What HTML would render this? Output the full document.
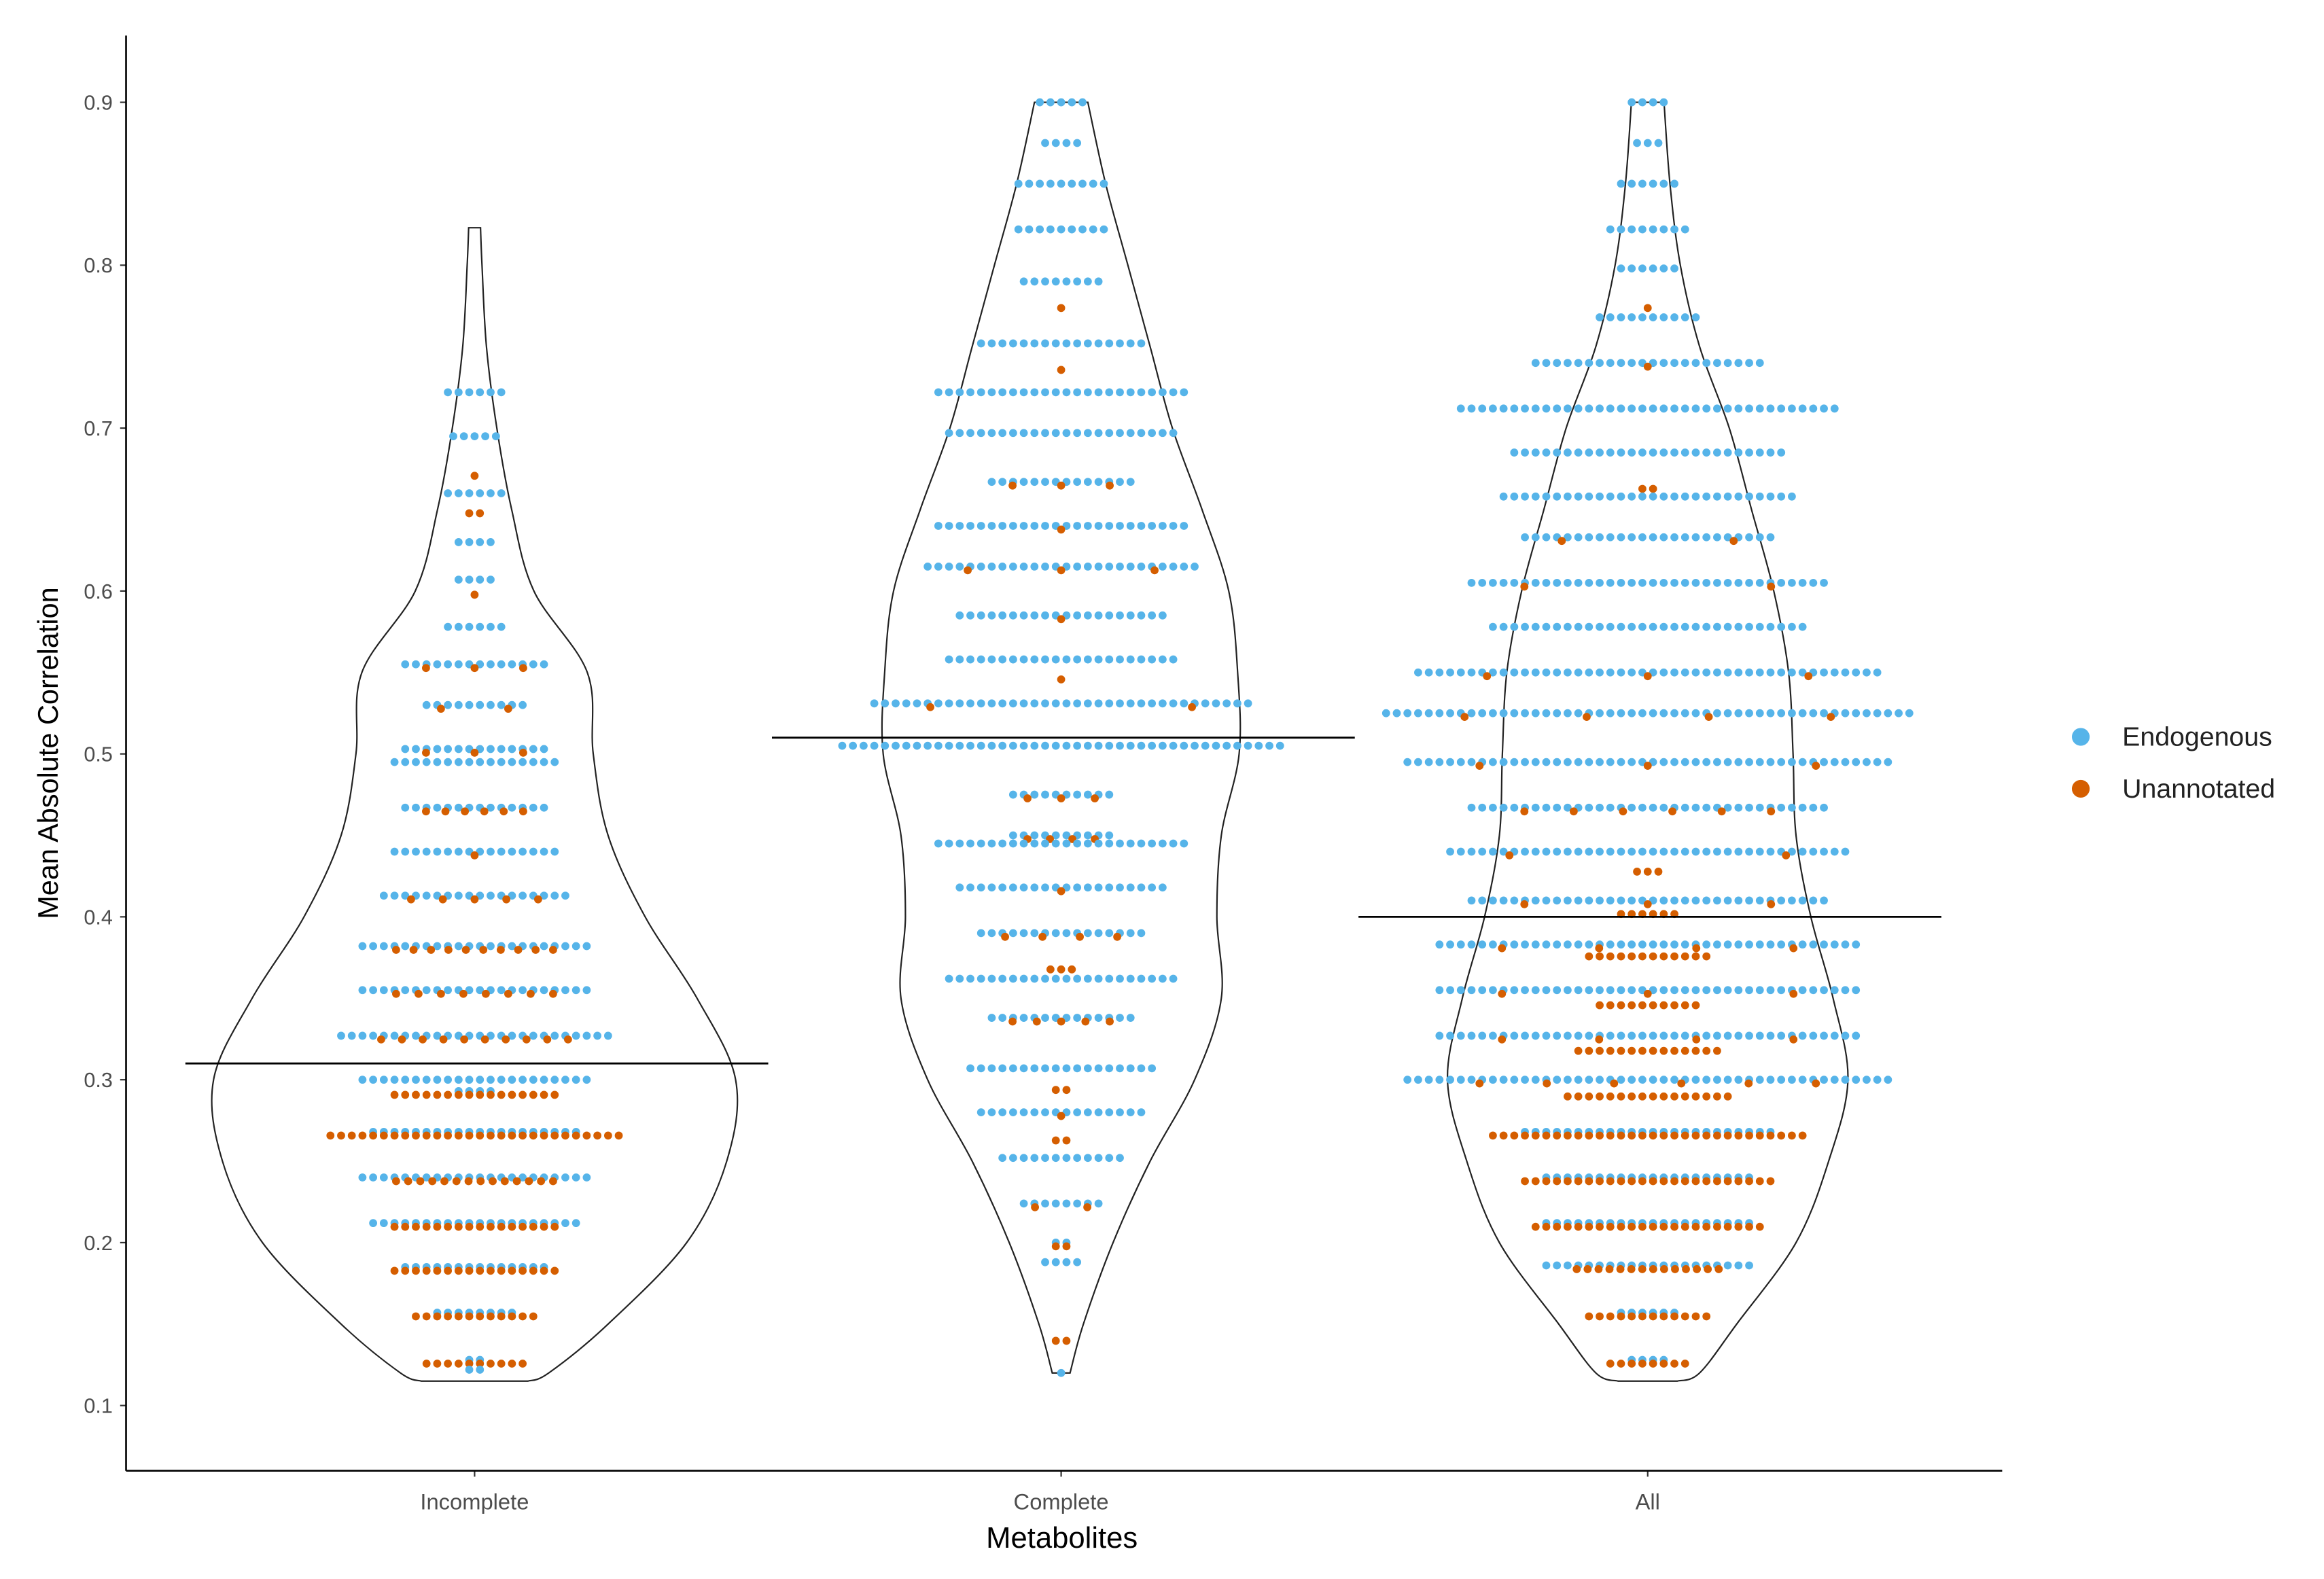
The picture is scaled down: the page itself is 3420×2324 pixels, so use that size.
<!DOCTYPE html>
<html><head><meta charset="utf-8"><style>
html,body{margin:0;padding:0;background:#fff}
svg{display:block}
text{font-family:"Liberation Sans",Arial,sans-serif}
</style></head><body>
<svg id="chart" width="3420" height="2324" viewBox="0 0 1567 1065" preserveAspectRatio="none" xmlns="http://www.w3.org/2000/svg">
<rect width="1567" height="1065" fill="#fff"/>
<g id="plot"></g>
<g id="axes"></g>
<g>
<circle cx="1403" cy="497" r="6" fill="#56B4E9"/>
<text x="1431" y="503" font-size="18" fill="#222">Endogenous</text>
<circle cx="1403" cy="532" r="6" fill="#D55E00"/>
<text x="1431" y="538" font-size="18" fill="#222">Unannotated</text>
</g>
<text x="716" y="1044" font-size="20" text-anchor="middle" fill="#000">Metabolites</text>
<text transform="translate(39,508) rotate(-90)" font-size="19" text-anchor="middle" fill="#000">Mean Absolute Correlation</text>
</svg>
<script>
const categories = ["Incomplete","Complete","All"];
const medians = [0.31, 0.51, 0.40];
const yTicks = [0.1,0.2,0.3,0.4,0.5,0.6,0.7,0.8,0.9];
// violin outline: values and half widths (px)
const violinVals = [
 [0.115,0.12,0.15,0.2,0.25,0.3,0.35,0.4,0.45,0.5,0.55,0.6,0.65,0.7,0.75,0.8,0.823],
 [0.12,0.15,0.2,0.25,0.3,0.35,0.4,0.45,0.5,0.55,0.6,0.65,0.7,0.75,0.8,0.85,0.9],
 [0.115,0.12,0.15,0.2,0.25,0.3,0.35,0.4,0.45,0.5,0.55,0.6,0.65,0.7,0.75,0.8,0.85,0.9]
];
const violinHalf = [
 [36,50,90,143,170,176,150,115,90,80,76,40,25,15,8,5,4],
 [6,15,35,60,90,108,105,108,120,119,113,95,75,60,45,30,18],
 [20,35,60,100,122,135,125,110,100,98,95,85,70,55,35,22,15,11]
];
// dot rows: level, endogenous count, unannotated count
const rowLevels = [
 [0.722,0.695,0.673,0.66,0.65,0.63,0.607,0.6,0.578,0.555,0.53,0.503,0.495,0.467,0.44,0.413,0.382,0.355,0.327,0.3,0.293,0.268,0.24,0.212,0.185,0.157,0.128,0.122],
 [0.9,0.875,0.85,0.822,0.79,0.776,0.752,0.738,0.722,0.697,0.667,0.64,0.615,0.585,0.558,0.548,0.531,0.505,0.475,0.45,0.445,0.418,0.39,0.37,0.362,0.338,0.307,0.296,0.28,0.265,0.252,0.224,0.2,0.188,0.142,0.12],
 [0.9,0.875,0.85,0.822,0.798,0.776,0.768,0.74,0.712,0.685,0.665,0.658,0.633,0.605,0.578,0.55,0.525,0.495,0.467,0.44,0.43,0.41,0.404,0.383,0.378,0.355,0.348,0.327,0.32,0.3,0.292,0.268,0.24,0.212,0.186,0.157,0.128]
];
const endoCounts = [
 [6,5,0,6,0,4,4,0,6,14,10,14,16,14,16,18,22,22,26,22,4,20,22,20,14,8,2,2],
 [5,4,9,9,8,0,16,0,24,22,14,24,26,20,22,0,36,42,10,10,24,20,16,0,22,14,18,0,16,0,12,8,2,4,0,1],
 [4,3,6,8,6,0,10,22,36,26,0,28,24,34,30,44,50,46,34,38,0,34,0,40,0,40,0,40,0,46,0,24,20,20,20,6,4]
];
const unannCounts = [
 [0,0,1,0,2,0,0,1,0,3,2,3,0,6,1,5,10,8,10,0,16,28,14,16,16,12,10,0],
 [0,0,0,0,0,1,0,1,0,0,3,1,3,1,0,1,2,0,3,4,0,1,4,3,0,5,0,2,1,2,0,2,2,0,2,0],
 [0,0,0,0,0,1,0,1,0,0,2,0,2,2,0,3,4,3,6,2,3,3,6,4,12,3,10,4,14,6,16,30,24,22,14,12,8]
];
const BLUE="#56B4E9", ORANGE="#D55E00";
const xCat = i => 320 + i*395.5;
const yScale = v => 69 + (0.9 - v) * 1098.75;
const NS="http://www.w3.org/2000/svg";
const plot=document.getElementById('plot'), axes=document.getElementById('axes');
function mk(tag, attrs, parent){const e=document.createElementNS(NS,tag);for(const k in attrs)e.setAttribute(k,attrs[k]);parent.appendChild(e);return e;}

function smooth(pts){
  let d="M"+pts[0][0]+","+pts[0][1];
  for(let i=0;i<pts.length-1;i++){
    const p0=pts[Math.max(0,i-1)],p1=pts[i],p2=pts[i+1],p3=pts[Math.min(pts.length-1,i+2)];
    const c1=[p1[0]+(p2[0]-p0[0])/6,p1[1]+(p2[1]-p0[1])/6];
    const c2=[p2[0]-(p3[0]-p1[0])/6,p2[1]-(p3[1]-p1[1])/6];
    d+=" C"+c1[0]+","+c1[1]+" "+c2[0]+","+c2[1]+" "+p2[0]+","+p2[1];
  }
  return d;
}

categories.forEach((c,gi)=>{
  const cx=xCat(gi);
  const right=violinVals[gi].map((v,k)=>[cx+violinHalf[gi][k],yScale(v)]);
  const left=violinVals[gi].map((v,k)=>[cx-violinHalf[gi][k],yScale(v)]).reverse();
  const d=smooth(right)+" L"+left[0][0]+","+left[0][1]+smooth(left).replace(/^M[^C]*/," ")+" Z";
  const vp=mk('path',{d:d,fill:'none',stroke:'#222','stroke-width':1},plot);
  
  
  rowLevels[gi].forEach((lv,r)=>{
    const e=endoCounts[gi][r], u=unannCounts[gi][r];
    const sp=7.2;
    const endoW=(e-1)*sp;
    for(let i=0;i<e;i++){
      const x=cx+(i-(e-1)/2)*sp;
      const dot=mk('circle',{cx:x,cy:yScale(lv),r:2.7,fill:BLUE},plot);
      
      
    }
    const usp = (e>u && u>1) ? Math.max(sp, endoW*0.7/(u-1)) : sp;
    for(let i=0;i<u;i++){
      const x=cx+(i-(u-1)/2)*usp;
      const dot=mk('circle',{cx:x,cy:yScale(lv)+2.5,r:2.7,fill:ORANGE},plot);
      
      
    }
  });
  const ml=mk('line',{x1:cx-195,x2:cx+198,y1:yScale(medians[gi]),y2:yScale(medians[gi]),stroke:'#000','stroke-width':1.3},plot);
  
  
  mk('line',{x1:cx,x2:cx,y1:992,y2:996,stroke:'#333','stroke-width':1},axes);
  const t=mk('text',{x:cx,y:1018,'font-size':15,'text-anchor':'middle',fill:'#4d4d4d'},axes);
  t.textContent=c;
  
  
});
yTicks.forEach(v=>{
  const y=yScale(v);
  mk('line',{x1:81,x2:85,y1:y,y2:y,stroke:'#333','stroke-width':1},axes);
  const t=mk('text',{x:76,y:y+5,'font-size':14,'text-anchor':'end',fill:'#4d4d4d'},axes);
  t.textContent=v.toFixed(1);
  
  
});
const ya=mk('line',{x1:85,x2:85,y1:24,y2:992,stroke:'#000','stroke-width':1.2},axes);


const xa=mk('line',{x1:85,x2:1350,y1:992,y2:992,stroke:'#000','stroke-width':1.2},axes);


</script>
</body></html>
